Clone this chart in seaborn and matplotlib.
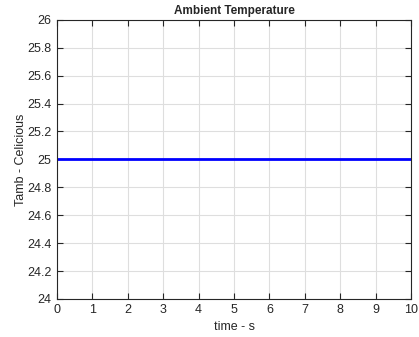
import numpy as np
import pandas as pd
import matplotlib
matplotlib.use("Agg")
import matplotlib.pyplot as plt
import seaborn as sns

# ambient temperature over time
time_s = [0, 10]
tamb_c = [25, 25]

x_ticks = [0, 1, 2, 3, 4, 5, 6, 7, 8, 9, 10]
y_ticks = [24, 24.2, 24.4, 24.6, 24.8, 25, 25.2, 25.4, 25.6, 25.8, 26]

sns.set_theme(style="white")
plt.rcParams['font.family'] = ['Liberation Sans', 'DejaVu Sans']

df = pd.DataFrame({"time": time_s, "tamb": tamb_c})

fig = plt.figure(figsize=(4.19, 3.37), dpi=100)
ax = fig.add_axes([0.136, 0.113, 0.845, 0.828])

sns.lineplot(data=df, x="time", y="tamb", color="#0000ff", linewidth=2, ax=ax)

ax.set_xlim(0, 10)
ax.set_ylim(24, 26)
ax.set_xticks(x_ticks)
ax.set_yticks(y_ticks)
ax.set_xticklabels([f"{v:g}" for v in x_ticks])
ax.set_yticklabels([f"{v:g}" for v in y_ticks])
ax.grid(True, color="#dedede", linewidth=0.8)
ax.tick_params(direction="in", length=4, width=0.8, labelsize=9, colors="#262626",
               top=True, right=True, left=True, bottom=True, pad=4)
for s in ax.spines.values():
    s.set_color("#262626")
    s.set_linewidth(0.8)

ax.set_title("Ambient Temperature", fontsize=8.5, fontweight="bold", pad=4.5)
ax.set_xlabel("time - s", fontsize=9, labelpad=3)
ax.set_ylabel("Tamb - Celicious", fontsize=9, labelpad=0)

fig.savefig("out.png", dpi=100)
